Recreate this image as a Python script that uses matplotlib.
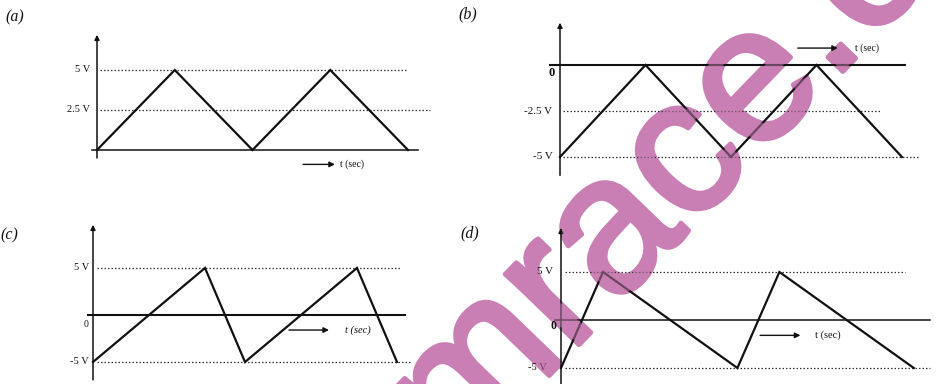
import matplotlib
matplotlib.use('Agg')
import matplotlib.pyplot as plt
import matplotlib.patheffects as pe

W, H = 936, 384
fig = plt.figure(figsize=(9.36, 3.84), dpi=100)
fig.patch.set_facecolor('white')

# ---------------- data ----------------
a_t = [0, 1, 2, 3, 4]
a_v = [0, 5, 0, 5, 0]
a_levels = [5, 2.5]
a_labels = ['5 V', '2.5 V']

b_t = [0, 1, 2, 3, 4]
b_v = [-5, 0, -5, 0, -5]
b_levels = [-2.5, -5]
b_labels = ['-2.5 V', '-5 V']

c_t = [0, 2.8, 3.8, 6.6, 7.6]
c_v = [-5, 5, -5, 5, -5]
c_levels = [5, -5]
c_labels = ['5 V', '-5 V']

d_t = [0, 1, 4.2, 5.2, 8.4]
d_v = [-5, 5, -5, 5, -5]
d_levels = [5, -5]
d_labels = ['5 V', '-5 V']

panel_names = ['(a)', '(b)', '(c)', '(d)']
axis_label = 't (sec)'
watermark = 'mrace.co'

SERIF = ['Liberation Serif', 'DejaVu Serif']
INK = '#111111'
PINK = '#C97EB4'


def make_ax(x0, sx, y0, sy, xlim, ylim):
    left = x0 + xlim[0] * sx
    right = x0 + xlim[1] * sx
    top = y0 - ylim[1] * sy
    bottom = y0 - ylim[0] * sy
    ax = fig.add_axes([left / W, 1 - bottom / H, (right - left) / W, (bottom - top) / H])
    ax.set_xlim(*xlim)
    ax.set_ylim(*ylim)
    ax.axis('off')
    return ax


def arrow(ax, x1, y1, x2, y2, lw=1.0, ms=8):
    ax.annotate('', xy=(x2, y2), xytext=(x1, y1),
                arrowprops=dict(arrowstyle='-|>', lw=lw, color=INK,
                                mutation_scale=ms, shrinkA=0, shrinkB=0))


def dotted(ax, x1, x2, y):
    ax.plot([x1, x2], [y, y], ls=(0, (1.2, 1.6)), lw=0.9, color='#333333')


def label(ax, x, y, s, size=7.5, ha='right', style='normal', weight='normal'):
    ax.text(x, y, s, ha=ha, va='center', fontsize=size, family=SERIF,
            style=style, weight=weight, color=INK)


# ---------------- panel (a) ----------------
ax = make_ax(97, 77.75, 150, 16, (-1.0, 4.8), (-1.8, 7.6))
arrow(ax, 0, -0.5, 0, 7.2, lw=1.1, ms=7)
ax.plot([-0.06, 4.13], [0, 0], color=INK, lw=1.1)
dotted(ax, 0.04, 4.0, a_levels[0])
dotted(ax, 0.04, 4.28, a_levels[1])
ax.plot(a_t, a_v, color=INK, lw=1.6, solid_joinstyle='miter')
for lv, lb in zip(a_levels, a_labels):
    label(ax, -0.09, lv, lb)
arrow(ax, 2.65, -0.9, 3.06, -0.9, lw=1.0, ms=8)
label(ax, 3.13, -0.9, axis_label, ha='left', size=7)

# ---------------- panel (b) ----------------
ax = make_ax(560, 85.5, 65, 18.4, (-1.2, 4.4), (-6.5, 2.8))
arrow(ax, 0, -6.0, 0, 2.3, lw=1.1, ms=7)
ax.plot([-0.12, 4.04], [0, 0], color=INK, lw=1.5)
dotted(ax, 0.04, 3.74, b_levels[0])
dotted(ax, 0.04, 4.2, b_levels[1])
ax.plot(b_t, b_v, color=INK, lw=1.6, solid_joinstyle='miter')
label(ax, -0.06, -0.45, '0', size=9, weight='bold')
for lv, lb in zip(b_levels, b_labels):
    label(ax, -0.09, lv, lb, size=8)
arrow(ax, 2.78, 0.92, 3.25, 0.92, lw=1.0, ms=8)
label(ax, 3.45, 0.92, axis_label, ha='left', size=7)

# ---------------- panel (c) ----------------
ax = make_ax(93, 40, 315, 9.4, (-2.3, 8.2), (-7.5, 10.5))
arrow(ax, 0, -6.9, 0, 9.6, lw=1.1, ms=7)
ax.plot([-0.125, 7.8], [0, 0], color=INK, lw=1.5)
dotted(ax, 0.1, 7.67, c_levels[0])
dotted(ax, 0.1, 7.95, c_levels[1])
ax.plot(c_t, c_v, color=INK, lw=1.6, solid_joinstyle='miter')
label(ax, -0.1, -1.05, '0', size=7)
for lv, lb in zip(c_levels, c_labels):
    label(ax, -0.1, lv, lb)
arrow(ax, 4.9, -1.6, 5.9, -1.6, lw=1.0, ms=8)
label(ax, 6.3, -1.6, axis_label, ha='left', size=7.5, style='italic')

# ---------------- panel (d) ----------------
ax = make_ax(561, 42, 320, 9.6, (-2.2, 8.9), (-7.0, 10.5))
arrow(ax, 0, -6.7, 0, 9.6, lw=1.1, ms=7)
ax.plot([-0.14, 8.79], [0, 0], color=INK, lw=1.1)
dotted(ax, 0.1, 8.2, d_levels[0])
dotted(ax, 0.1, 8.79, d_levels[1])
ax.plot(d_t, d_v, color=INK, lw=1.6, solid_joinstyle='miter')
label(ax, -0.1, -0.6, '0', size=8.5, weight='bold')
label(ax, -0.18, d_levels[0], d_labels[0], size=8)
label(ax, -0.35, d_levels[1], d_labels[1], size=7.5)
arrow(ax, 4.74, -1.6, 5.7, -1.6, lw=1.0, ms=8)
label(ax, 6.05, -1.6, axis_label, ha='left', size=7.5)

# ---------------- panel letters ----------------
for name, (px, py) in zip(panel_names, [(5, 17), (458, 14), (0, 235), (460, 233)]):
    fig.text(px / W, 1 - py / H, name, ha='left', va='center', fontsize=11.5,
             family=SERIF, style='italic', color=INK)

# ---------------- watermark ----------------
wm_kw = dict(rotation=46, rotation_mode='anchor', ha='left', va='baseline',
             fontsize=139, family=['Liberation Sans', 'DejaVu Sans'], color=PINK)
wx, wy = 458 / W, 1 - 470 / H
# opaque layer below the drawings
fig.text(wx, wy, watermark, zorder=-1,
         path_effects=[pe.withStroke(linewidth=3.5, foreground=PINK)], **wm_kw)
# translucent layer above, so the lines show through as in a scan
fig.text(wx, wy, watermark, zorder=10, alpha=0.5,
         path_effects=[pe.Normal()], **wm_kw)

fig.savefig('out.png', dpi=100)
